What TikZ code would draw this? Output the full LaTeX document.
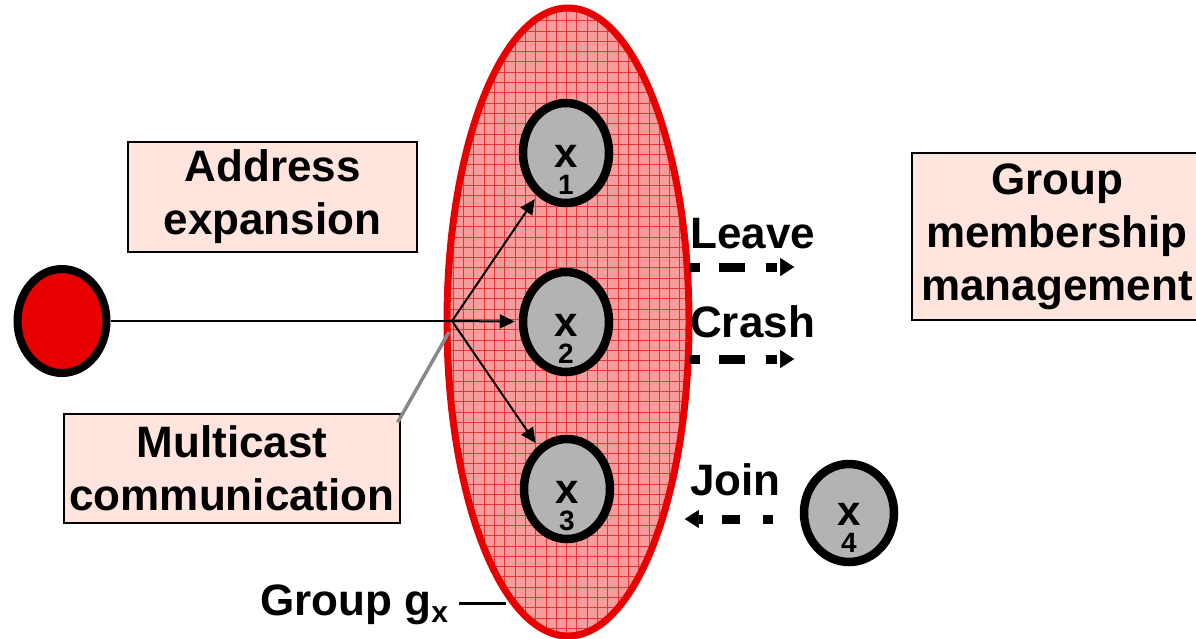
\documentclass[tikz,border=0pt]{standalone}
\usepackage{fontspec}
\setmainfont{Liberation Sans}
\usetikzlibrary{shapes.geometric,arrows.meta}
\definecolor{grpred}{RGB}{232,0,0}
\definecolor{grpfill}{RGB}{246,156,156}
\definecolor{gridred}{RGB}{236,52,52}
\definecolor{boxpink}{RGB}{255,229,222}
\definecolor{procgray}{RGB}{179,179,179}
\definecolor{leadgray}{RGB}{136,136,136}
\tikzset{
  lbl/.style={font=\fontsize{44}{53}\selectfont\bfseries, inner sep=0pt},
  infobox/.style={draw=black, line width=1.5pt, fill=boxpink, align=center,
    inner sep=0pt, font=\fontsize{44}{53}\selectfont\bfseries},
  proc/.style={ellipse, draw=black, line width=8.5pt, fill=procgray,
    minimum width=86pt, minimum height=100pt, inner sep=0pt},
  pname/.style={font=\fontsize{42}{27}\selectfont\bfseries, inner sep=0pt, align=center},
  cast/.style={line width=2pt, -{Triangle[length=15pt,width=14pt]}},
  member/.style={line width=9pt, -{Triangle[length=14pt,width=18pt,line width=0.5pt,round]}}
}
\newcommand{\procname}[1]{x\\\fontsize{28}{27}\selectfont #1}
\begin{document}
\begin{tikzpicture}[x=1pt,y=-1pt]
\useasboundingbox (0,0) rectangle (1196,638);

% the group: hatched ellipse
\begin{scope}
  \clip (568,322) ellipse [x radius=121pt, y radius=314pt];
  \fill[grpfill] (440,0) rectangle (700,640);
  \draw[gridred, line width=0.8pt, step=10.3pt] (440,0) grid (700,640);
\end{scope}
\draw[grpred, line width=7pt] (568,322) ellipse [x radius=121pt, y radius=314pt];
\coordinate (gedge) at (506,603);

% sender
\node[ellipse, draw=black, line width=8pt, fill=grpred,
      minimum width=89pt, minimum height=104pt] (src) at (62,321) {};

% group members
\node[proc] (x1) at (566,153) {};
\node[proc] (x2) at (566,322) {};
\node[proc] (x3) at (567,489) {};
\node[proc, minimum width=90pt, minimum height=98pt] (x4) at (849,513) {};
\foreach \p/\i/\dy in {x1/1/17, x2/2/17, x3/3/17, x4/4/15}{
  \node[pname] (\p n) at ([yshift=-\dy pt]\p.center) {\procname{\i}};
}

% multicast fan-out
\coordinate (br) at (452,321);
\draw[line width=2pt] (src) -- (br);
\draw[cast, shorten >=4pt] (br) -- (x1);
\draw[cast, shorten >=4pt] (br) -- (x2);
\draw[cast, shorten >=4pt] (br) -- (x3);

% annotation boxes
\node[infobox, minimum width=289pt, minimum height=110pt] (addr) at (272.5,197)
  {Address\\expansion};
\node[infobox, minimum width=336pt, minimum height=109pt] (mcast) at (232,468.5)
  {Multicast\\communication};
\node[infobox, minimum width=290pt, minimum height=167pt] (gmm) at (1057,236.5)
  {Group\\membership\\management};
\coordinate (mtip) at (449,332);
\draw[leadgray, line width=3.5pt] (mcast.north east) ++(-3,9) coordinate (mfoot) -- (mtip);

% membership events
\node[lbl, anchor=base west] (leave) at (690,248) {Leave};
\node[lbl, anchor=base west] (crash) at (690,337) {Crash};
\node[lbl, anchor=base west] (join)  at (690,495) {Join};
\coordinate (l0) at (689,267); \coordinate (l1) at (794,267);
\coordinate (c0) at (689,359); \coordinate (c1) at (794,359);
\coordinate (j0) at (773,519); \coordinate (j1) at (685,519);
\draw[member, dash pattern=on 11pt off 19pt on 26pt off 21pt] (l0) -- (l1);
\draw[member, dash pattern=on 11pt off 19pt on 26pt off 21pt] (c0) -- (c1);
\draw[member, dash pattern=on 10pt off 23pt on 18pt off 19pt] (j0) -- (j1);

% group name
\node[lbl, anchor=base west] (gname) at (260,615)
  {Group g\textsubscript{\fontsize{30}{30}\selectfont x}};
\coordinate (gstart) at (459,603);
\draw[line width=3pt] (gstart) -- (gedge);
\end{tikzpicture}
\end{document}
